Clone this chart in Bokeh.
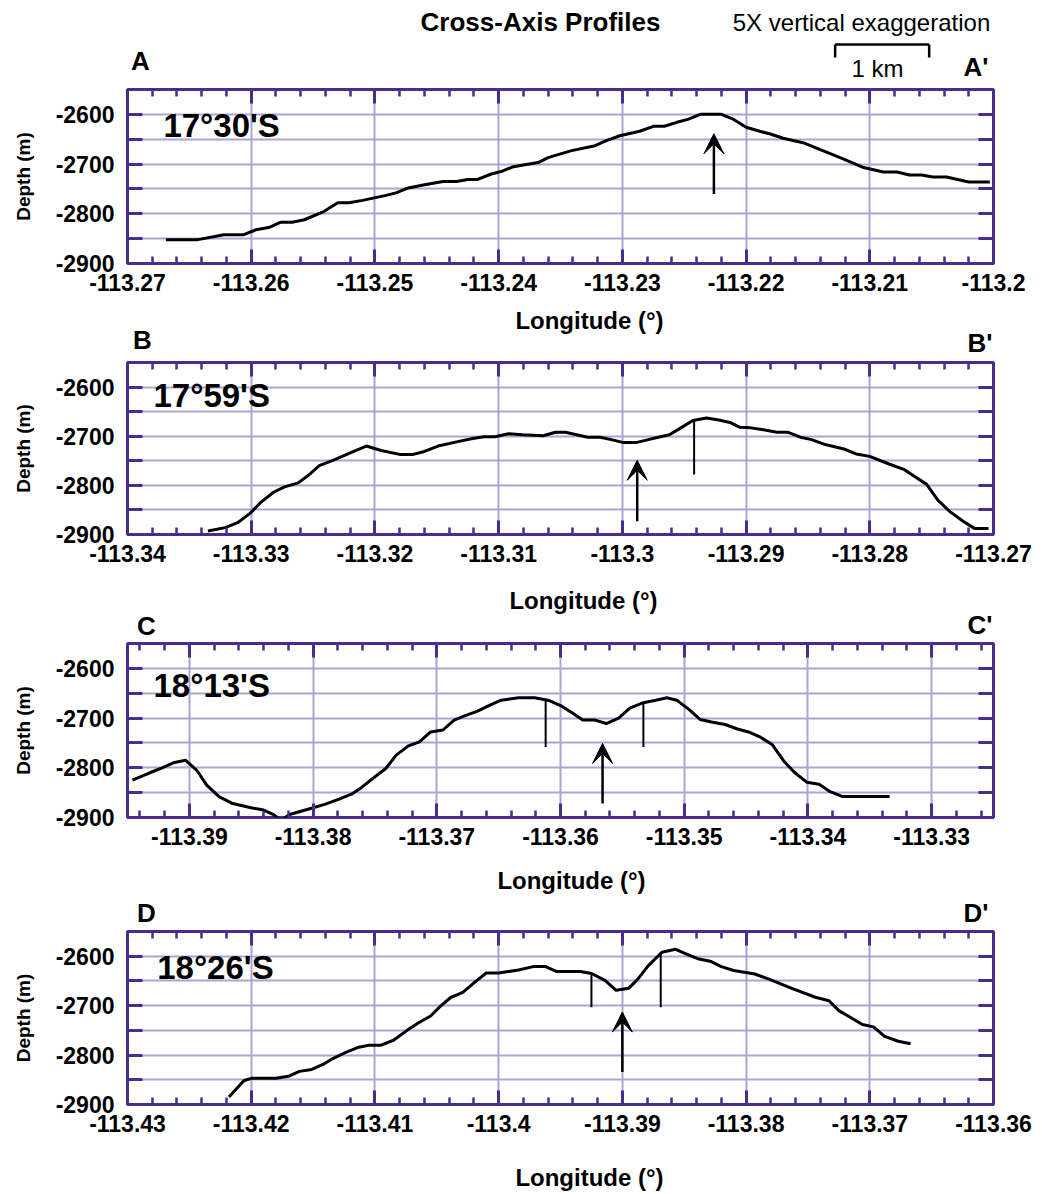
import numpy as np
from bokeh.plotting import figure
from bokeh.models import (Range1d, FixedTicker, LinearAxis, Label, Arrow, VeeHead,
                          CustomJSTickFormatter)
from bokeh.layouts import column
from bokeh.embed import file_html
from bokeh.resources import INLINE

FONT = "Liberation Sans"
PURPLE = "#4a2c8c"
GRIDC = "#aaa4d4"

# ---------------- data ----------------
depth_ticks = [-2900, -2800, -2700, -2600]
depth_minor = [-2850, -2750, -2650]
depth_range = (-2900, -2550)

a_lon_ticks = [-113.27, -113.26, -113.25, -113.24, -113.23, -113.22, -113.21, -113.20]
a_lon = [-113.2669, -113.2643, -113.2622, -113.2606, -113.2596, -113.2585, -113.2576, -113.2567,
         -113.2557, -113.2541, -113.2530, -113.2521, -113.2510, -113.2491, -113.2483, -113.2473,
         -113.2461, -113.2445, -113.2434, -113.2425, -113.2417, -113.2406, -113.2398, -113.2389,
         -113.2380, -113.2368, -113.2360, -113.2352, -113.2341, -113.2322, -113.2313, -113.2302,
         -113.2286, -113.2275, -113.2266, -113.2256, -113.2247, -113.2237, -113.2220, -113.2211,
         -113.2200, -113.2189, -113.2181, -113.2170, -113.2154, -113.2138, -113.2122, -113.2105,
         -113.2089, -113.2078, -113.2068, -113.2058, -113.2049, -113.2038, -113.2020, -113.2003]
a_depth = [-2852, -2852, -2842, -2842, -2832, -2827, -2817, -2817, -2812, -2795, -2778, -2778,
           -2773, -2763, -2758, -2748, -2742, -2735, -2735, -2731, -2731, -2720, -2715, -2706,
           -2702, -2697, -2687, -2681, -2673, -2663, -2653, -2643, -2634, -2624, -2624, -2616,
           -2610, -2600, -2600, -2609, -2626, -2634, -2639, -2648, -2657, -2673, -2689, -2707,
           -2716, -2716, -2722, -2722, -2726, -2726, -2736, -2736]
a_arrow = (-113.2226, -2760, -2639)          # lon, tail depth, tip depth
a_marks_lon, a_marks_top, a_marks_bot = [], [], []

b_lon_ticks = [-113.34, -113.33, -113.32, -113.31, -113.30, -113.29, -113.28, -113.27]
b_lon = [-113.3335, -113.3321, -113.3311, -113.3301, -113.3292, -113.3282, -113.3273, -113.3262,
         -113.3254, -113.3245, -113.3232, -113.3219, -113.3207, -113.3195, -113.3180, -113.3169,
         -113.3160, -113.3149, -113.3133, -113.3122, -113.3112, -113.3103, -113.3092, -113.3081,
         -113.3064, -113.3054, -113.3046, -113.3037, -113.3028, -113.3018, -113.3009, -113.2999,
         -113.2989, -113.2979, -113.2971, -113.2962, -113.2952, -113.2943, -113.2932, -113.2922,
         -113.2913, -113.2905, -113.2896, -113.2886, -113.2875, -113.2866, -113.2856, -113.2847,
         -113.2836, -113.2821, -113.2811, -113.2800, -113.2785, -113.2772, -113.2754, -113.2745,
         -113.2735, -113.2724, -113.2715, -113.2704]
b_depth = [-2893, -2886, -2876, -2857, -2834, -2814, -2803, -2795, -2780, -2760, -2747, -2733,
           -2720, -2729, -2737, -2737, -2731, -2720, -2711, -2705, -2701, -2701, -2695, -2697,
           -2699, -2692, -2692, -2697, -2702, -2702, -2707, -2713, -2713, -2707, -2702, -2697,
           -2682, -2668, -2663, -2667, -2672, -2682, -2683, -2687, -2692, -2692, -2702, -2707,
           -2717, -2726, -2736, -2741, -2756, -2768, -2798, -2830, -2854, -2874, -2888, -2888]
b_arrow = (-113.2988, -2873, -2749)
b_marks_lon, b_marks_top, b_marks_bot = [-113.2942], [-2667], [-2778]

c_lon_ticks = [-113.39, -113.38, -113.37, -113.36, -113.35, -113.34, -113.33]
c_lon = [-113.3946, -113.3932, -113.3922, -113.3913, -113.3903, -113.3894, -113.3886, -113.3876,
         -113.3865, -113.3851, -113.3840, -113.3832, -113.3826, -113.3819, -113.3802, -113.3790,
         -113.3779, -113.3769, -113.3761, -113.3752, -113.3741, -113.3733, -113.3723, -113.3714,
         -113.3705, -113.3695, -113.3686, -113.3676, -113.3667, -113.3657, -113.3648, -113.3634,
         -113.3621, -113.3610, -113.3599, -113.3591, -113.3582, -113.3572, -113.3563, -113.3553,
         -113.3544, -113.3533, -113.3523, -113.3514, -113.3506, -113.3496, -113.3487, -113.3478,
         -113.3467, -113.3457, -113.3448, -113.3438, -113.3429, -113.3419, -113.3411, -113.3401,
         -113.3391, -113.3382, -113.3372, -113.3334]
c_depth = [-2825, -2810, -2800, -2790, -2785, -2805, -2835, -2858, -2872, -2880, -2885, -2894,
           -2906, -2894, -2882, -2873, -2863, -2853, -2840, -2822, -2801, -2775, -2756, -2748,
           -2728, -2724, -2704, -2694, -2686, -2674, -2664, -2659, -2659, -2664, -2676, -2689,
           -2704, -2704, -2711, -2700, -2680, -2669, -2664, -2659, -2664, -2683, -2703, -2708,
           -2713, -2722, -2728, -2739, -2753, -2788, -2809, -2829, -2833, -2848, -2858, -2858]
c_arrow = (-113.3566, -2872, -2751)
c_marks_lon, c_marks_top, c_marks_bot = [-113.3612, -113.3533], [-2664, -2669], [-2758, -2758]

d_lon_ticks = [-113.43, -113.42, -113.41, -113.40, -113.39, -113.38, -113.37, -113.36]
d_lon = [-113.4218, -113.4206, -113.4200, -113.4180, -113.4170, -113.4161, -113.4151, -113.4142,
         -113.4134, -113.4124, -113.4113, -113.4105, -113.4095, -113.4085, -113.4074, -113.4065,
         -113.4055, -113.4047, -113.4039, -113.4029, -113.4019, -113.4010, -113.4000, -113.3984,
         -113.3972, -113.3962, -113.3953, -113.3934, -113.3925, -113.3914, -113.3905, -113.3895,
         -113.3888, -113.3879, -113.3868, -113.3857, -113.3849, -113.3839, -113.3829, -113.3820,
         -113.3810, -113.3793, -113.3782, -113.3763, -113.3744, -113.3733, -113.3725, -113.3706,
         -113.3697, -113.3688, -113.3677, -113.3667]
d_depth = [-2885, -2852, -2847, -2847, -2843, -2833, -2829, -2819, -2807, -2795, -2784, -2780,
           -2780, -2770, -2750, -2735, -2721, -2701, -2684, -2673, -2652, -2634, -2634, -2628,
           -2621, -2621, -2631, -2631, -2635, -2649, -2669, -2665, -2648, -2619, -2592, -2586,
           -2595, -2605, -2610, -2621, -2629, -2636, -2646, -2665, -2683, -2690, -2710, -2738,
           -2743, -2762, -2772, -2777]
d_arrow = (-113.3900, -2834, -2713)
d_marks_lon, d_marks_top, d_marks_bot = [-113.3925, -113.3869], [-2635, -2592], [-2703, -2703]

# 1 km scale bar (longitude extent, drawn above panel A)
scale_lon = [-113.2128, -113.2052]

# ---------------- layout constants ----------------
LEFT, FRAME_W, RIGHT = 127, 866, 47
TOP_B, BOT_B = 4, 40

lon_fmt = CustomJSTickFormatter(code="return tick.toFixed(3).replace(/0+$/, '').replace(/\\.$/, '');")
dep_fmt = CustomJSTickFormatter(code="return tick.toFixed(0);")
empty_fmt = CustomJSTickFormatter(code="return '';")


def minor_lon(x0, x1, majors):
    k0 = int(np.ceil(x0 / 0.002 - 1e-6))
    k1 = int(np.floor(x1 / 0.002 + 1e-6))
    out = []
    for k in range(k0, k1 + 1):
        v = round(k * 0.002, 4)
        if min(abs(v - m) for m in majors) > 1e-6:
            out.append(v)
    return out


def style_axis(ax, ticker, tick_major, tick_minor, minor_w):
    ax.ticker = ticker
    ax.axis_line_color = None
    ax.major_tick_in = tick_major
    ax.major_tick_out = 0
    ax.minor_tick_in = tick_minor
    ax.minor_tick_out = 0
    ax.major_tick_line_color = PURPLE
    ax.minor_tick_line_color = PURPLE
    ax.major_tick_line_width = 3
    ax.minor_tick_line_width = minor_w
    ax.major_label_text_font = FONT
    ax.major_label_text_font_style = "bold"
    ax.major_label_text_font_size = "23px"
    ax.major_label_text_color = "black"


def make_label(x, y, text, size, bold=True, align="left"):
    return Label(x=x, y=y, text=text, text_font=FONT, text_font_size=size,
                 text_font_style="bold" if bold else "normal", text_color="black",
                 text_align=align, text_baseline="middle")


def panel(lon, depth, lon_ticks, xr, arrow, m_lon, m_top, m_bot, frame_h, lat, lat_xy):
    p = figure(frame_width=FRAME_W, frame_height=frame_h,
               min_border_left=LEFT, min_border_right=RIGHT,
               min_border_top=TOP_B, min_border_bottom=BOT_B,
               x_range=Range1d(*xr), y_range=Range1d(*depth_range),
               toolbar_location=None, output_backend="svg", title=None)
    p.background_fill_color = "white"
    p.border_fill_color = "white"
    p.outline_line_color = PURPLE
    p.outline_line_width = 3

    minors = minor_lon(xr[0], xr[1], lon_ticks)

    xa = p.xaxis[0]
    style_axis(xa, FixedTicker(ticks=lon_ticks, minor_ticks=minors), 14, 7, 2.5)
    xa.formatter = lon_fmt
    xa.major_label_standoff = 10

    ya = p.yaxis[0]
    style_axis(ya, FixedTicker(ticks=depth_ticks, minor_ticks=depth_minor), 15, 15, 3)
    ya.formatter = dep_fmt
    ya.major_label_standoff = 13
    ya.axis_label = "Depth (m)"
    ya.axis_label_text_font = FONT
    ya.axis_label_text_font_style = "bold"
    ya.axis_label_text_font_size = "19px"
    ya.axis_label_text_color = "black"
    ya.axis_label_standoff = 19

    top_ax = LinearAxis()
    style_axis(top_ax, FixedTicker(ticks=lon_ticks, minor_ticks=minors), 14, 7, 2.5)
    top_ax.formatter = empty_fmt
    top_ax.major_label_standoff = 0
    p.add_layout(top_ax, "above")
    right_ax = LinearAxis()
    style_axis(right_ax, FixedTicker(ticks=depth_ticks, minor_ticks=depth_minor), 15, 15, 3)
    right_ax.formatter = empty_fmt
    right_ax.major_label_standoff = 0
    p.add_layout(right_ax, "right")

    p.xgrid.ticker = FixedTicker(ticks=lon_ticks)
    p.xgrid.grid_line_color = GRIDC
    p.xgrid.grid_line_width = 2
    p.ygrid.ticker = FixedTicker(ticks=depth_ticks, minor_ticks=depth_minor)
    p.ygrid.grid_line_color = GRIDC
    p.ygrid.grid_line_width = 2
    p.ygrid.minor_grid_line_color = GRIDC
    p.ygrid.minor_grid_line_width = 2

    p.line(lon, depth, line_color="black", line_width=3, line_join="round")
    if m_lon:
        p.segment(x0=m_lon, y0=m_bot, x1=m_lon, y1=m_top, line_color="black", line_width=2)
    a_x, a_tail, a_tip = arrow
    p.add_layout(Arrow(x_start=a_x, y_start=a_tail, x_end=a_x, y_end=a_tip,
                       line_color="black", line_width=2.5,
                       end=VeeHead(size=20, fill_color="black", line_color="black", line_width=1)))
    p.add_layout(make_label(lat_xy[0], lat_xy[1], lat, "33px"))
    return p


def strip(y0, y1, items, lon_range=None):
    """Text band between panels.  Its frame is aligned with the panels' frames by the
    column layout, so x is expressed in page pixels over the frame span."""
    h = y1 - y0
    s = figure(frame_width=FRAME_W, height=h,
               min_border_left=LEFT, min_border_right=RIGHT, min_border_top=0, min_border_bottom=0,
               x_range=Range1d(LEFT, LEFT + FRAME_W), y_range=Range1d(h, 0),
               x_axis_type=None, y_axis_type=None,
               toolbar_location=None, output_backend="svg", title=None)
    s.outline_line_color = None
    s.background_fill_color = "white"
    s.border_fill_color = "white"
    s.grid.visible = False
    for (x, y, text, size, bold, align) in items:
        s.add_layout(make_label(x, y - y0, text, size, bold, align))
    if lon_range is not None:
        s.extra_x_ranges = {"lon": Range1d(*lon_range)}
    return s


# panel vertical placement (page pixels of frame tops)
fa_top, fb_top, fc_top, fd_top = 89, 362, 643, 931
fa_h, fb_h, fc_h, fd_h = 174, 172, 174, 173

pA = panel(a_lon, a_depth, a_lon_ticks, (-113.27, -113.20), a_arrow,
           a_marks_lon, a_marks_top, a_marks_bot, fa_h, "17°30'S", (-113.2671, -2622))
pB = panel(b_lon, b_depth, b_lon_ticks, (-113.34, -113.27), b_arrow,
           b_marks_lon, b_marks_top, b_marks_bot, fb_h, "17°59'S", (-113.3379, -2618))
pC = panel(c_lon, c_depth, c_lon_ticks, (-113.395, -113.325), c_arrow,
           c_marks_lon, c_marks_top, c_marks_bot, fc_h, "18°13'S", (-113.3929, -2634))
pD = panel(d_lon, d_depth, d_lon_ticks, (-113.43, -113.36), d_arrow,
           d_marks_lon, d_marks_top, d_marks_bot, fd_h, "18°26'S", (-113.4276, -2623))

a_end = fa_top + fa_h + BOT_B
b_end = fb_top + fb_h + BOT_B
c_end = fc_top + fc_h + BOT_B
d_end = fd_top + fd_h + BOT_B

s0 = strip(0, fa_top - TOP_B, [
    (540, 21, "Cross-Axis Profiles", "26px", True, "center"),
    (861, 22, "5X vertical exaggeration", "24px", False, "center"),
    (877, 68, "1 km", "24px", False, "center"),
    (140, 60, "A", "26px", True, "center"),
    (988, 66, "A'", "26px", True, "right"),
], lon_range=(-113.27, -113.20))
s0.segment(x0=[scale_lon[0], scale_lon[0], scale_lon[1]], y0=[44, 44, 44],
           x1=[scale_lon[1], scale_lon[0], scale_lon[1]], y1=[44, 57, 57],
           x_range_name="lon", line_color="black", line_width=2.5)

s1 = strip(a_end, fb_top - TOP_B, [
    (589, 320, "Longitude (°)", "24px", True, "center"),
    (142, 339, "B", "26px", True, "center"),
    (992, 342, "B'", "26px", True, "right"),
])
s2 = strip(b_end, fc_top - TOP_B, [
    (583, 600, "Longitude (°)", "24px", True, "center"),
    (146, 625, "C", "26px", True, "center"),
    (992, 624, "C'", "26px", True, "right"),
])
s3 = strip(c_end, fd_top - TOP_B, [
    (571, 880, "Longitude (°)", "24px", True, "center"),
    (146, 912, "D", "26px", True, "center"),
    (988, 912, "D'", "26px", True, "right"),
])
s4 = strip(d_end, 1192, [
    (589, 1177, "Longitude (°)", "24px", True, "center"),
])

layout = column(s0, pA, s1, pB, s2, pC, s3, pD, s4)
open("out.html", "w").write(file_html(layout, INLINE))
